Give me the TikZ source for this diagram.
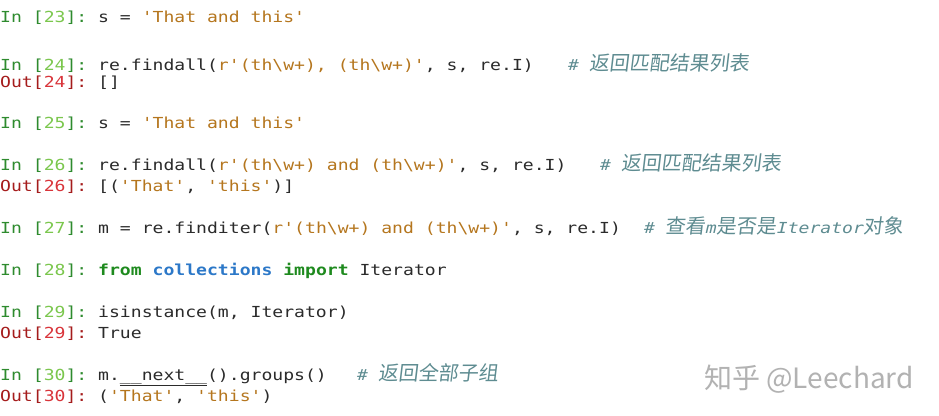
\documentclass[tikz,border=0pt]{standalone}
\usepackage{fontspec}
\setmonofont[FakeStretch=1.19]{DejaVu Sans Mono}
\newfontfamily\cjkf[FakeSlant=0.12]{Noto Sans CJK SC}
\newcommand{\cjk}{\cjkf\fontsize{20}{21}\selectfont}
\newfontfamily\wm{Noto Sans CJK SC}
\definecolor{ingreen}{HTML}{2E8B2E}
\definecolor{numgreen}{HTML}{7BC74D}
\definecolor{outred}{HTML}{A51C1C}
\definecolor{numred}{HTML}{D9343A}
\definecolor{strc}{HTML}{B5761E}
\definecolor{cmt}{HTML}{5E8C91}
\definecolor{kw}{HTML}{1E8A1E}
\definecolor{mod}{HTML}{2C78C8}
\definecolor{txt}{HTML}{2B2B2B}
\newcommand{\bs}{\textbackslash}
\newcommand{\inp}[1]{\textcolor{ingreen}{In [}\textcolor{numgreen}{#1}\textcolor{ingreen}{]:} }
\newcommand{\outp}[1]{\textcolor{outred}{Out[}\textcolor{numred}{#1}\textcolor{outred}{]:} }
\newcommand{\str}[1]{\textcolor{strc}{#1}}
\begin{document}
\begin{tikzpicture}[x=1pt,y=-1pt,
  ln/.style={anchor=base west,inner sep=0pt,font=\ttfamily\fontsize{15.2}{16}\selectfont,text=txt},
  cmtline/.style={anchor=base west,inner sep=0pt,font=\ttfamily\itshape\fontsize{15.2}{16}\selectfont,text=cmt}]
\useasboundingbox[fill=white] (0,0) rectangle (939,415);
\node[ln] (l1) at (0,23) {\inp{23}s = \str{'That and this'}};
\node[ln] (l2) at (0,70) {\inp{24}re.findall(\str{r'(th\bs w+), (th\bs w+)'}, s, re.I)};
\node[cmtline] (c2) at (568,70) {\# {\cjk 返回匹配结果列表}};
\node[ln] (l3) at (0,87) {\outp{24}[]};
\node[ln] (l4) at (0,128) {\inp{25}s = \str{'That and this'}};
\node[ln] (l5) at (0,170) {\inp{26}re.findall(\str{r'(th\bs w+) and (th\bs w+)'}, s, re.I)};
\node[cmtline] (c5) at (600,170) {\# {\cjk 返回匹配结果列表}};
\node[ln] (l6) at (0,191) {\outp{26}[(\str{'That'}, \str{'this'})]};
\node[ln] (l7) at (0,233) {\inp{27}m = re.finditer(\str{r'(th\bs w+) and (th\bs w+)'}, s, re.I)};
\node[cmtline] (c7) at (644,233) {\# {\cjk 查看}m{\cjk 是否是}Iterator{\cjk 对象}};
\node[ln] (l8) at (0,275) {\inp{28}\textcolor{kw}{\bfseries from} \textcolor{mod}{\bfseries collections} \textcolor{kw}{\bfseries import} Iterator};
\node[ln] (l9) at (0,317) {\inp{29}isinstance(m, Iterator)};
\node[ln] (l10) at (0,338) {\outp{29}True};
\node[ln] (l11) at (0,380) {\inp{30}m.\underline{\_\_next\_\_}().groups()};
\node[cmtline] (c11) at (357,380) {\# {\cjk 返回全部子组}};
\node[ln] (l12) at (0,401) {\outp{30}(\str{'That'}, \str{'this'})};
\node[anchor=base west,inner sep=0pt,text=black!30,font=\wm\fontsize{28}{30}\selectfont] (w) at (704,388) {知乎 @Leechard};
\end{tikzpicture}
\end{document}
